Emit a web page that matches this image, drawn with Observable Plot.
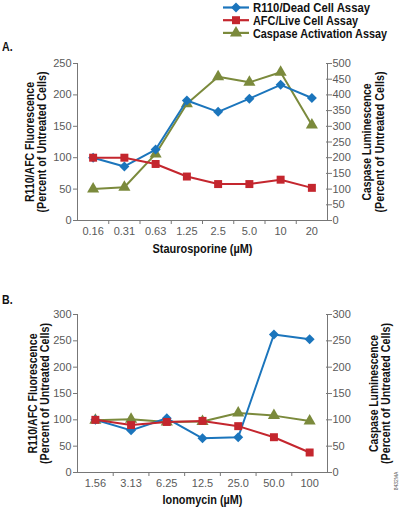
<!DOCTYPE html>
<html>
<head>
<meta charset="utf-8">
<script src="https://cdn.jsdelivr.net/npm/d3@7"></script>
<script src="https://cdn.jsdelivr.net/npm/@observablehq/plot@0.6"></script>
<style>
  html, body { margin: 0; padding: 0; background: #fff; }
  #root { position: relative; width: 400px; height: 511px; overflow: hidden; }
  .abs { position: absolute; }
</style>
</head>
<body>
<div id="root"></div>
<script>
// ---------- data ----------
const seriesNames = ["R110/Dead Cell Assay", "AFC/Live Cell Assay", "Caspase Activation Assay"];
const seriesColors = ["#1b75bc", "#c4262e", "#7b8a3c"];
const seriesSymbols = ["diamond2", "square", "triangle"];

const catsA = ["0.16", "0.31", "0.63", "1.25", "2.5", "5.0", "10", "20"];
const r110A = [100, 86, 113, 191, 173, 194, 216, 195];
const afcA  = [100, 100, 90, 70, 58, 58, 65, 52];
const caspA = [100, 106, 212, 372, 458, 440, 472, 304];
const leftTicksA  = [0, 50, 100, 150, 200, 250];
const rightTicksA = [0, 50, 100, 150, 200, 250, 300, 350, 400, 450, 500];

const catsB = ["1.56", "3.13", "6.25", "12.5", "25.0", "50.0", "100"];
const r110B = [100, 80, 103, 65, 67, 262, 253];
const afcB  = [100, 90, 96, 98, 88, 67, 38];
const caspB = [99, 101, 96, 97, 113, 108, 98];
const leftTicksB  = [0, 50, 100, 150, 200, 250, 300];
const rightTicksB = [0, 50, 100, 150, 200, 250, 300];

const leftLabel  = ["R110/AFC Fluorescence", "(Percent of Untreated Cells)"];
const rightLabel = ["Caspase Luminescence", "(Percent of Untreated Cells)"];
const xTitleA = "Staurosporine (µM)";
const xTitleB = "Ionomycin (µM)";

// ---------- drawing ----------
const root = document.getElementById("root");
const boldFont = '"Liberation Sans", Arial, sans-serif';
const axisColor = "#777";
const tickText = "#5a5a5a";

// target rendered widths of the condensed bold texts (px)
const textWidths = new Map([
  ["R110/AFC Fluorescence", 120],
  ["Caspase Luminescence", 117],
  ["(Percent of Untreated Cells)", 141],
  [xTitleA, 100],
  [xTitleB, 80]
]);

function condense(svg) {
  d3.select(svg).selectAll("text").each(function () {
    const w = textWidths.get(this.textContent);
    if (w) {
      this.setAttribute("textLength", w);
      this.setAttribute("lengthAdjust", "spacingAndGlyphs");
    }
  });
}

function panel({cats, r110, afc, casp, leftTicks, rightTicks, rightFactor, xTitle, height, marginTop, marginBottom, titleDy, ldx, rdx}) {
  const n = cats.length;
  const yMax = leftTicks[leftTicks.length - 1];
  const rows = (vals, f = 1) => vals.map((v, i) => ({i, v: v / f}));
  const rightPos = rightTicks.map(t => t / rightFactor);
  const series = [
    {data: rows(casp, rightFactor), k: 2},
    {data: rows(r110), k: 0},
    {data: rows(afc), k: 1}
  ];
  const titleStyle = {fontSize: 12.5, fontWeight: "bold", fontFamily: boldFont, fill: "#111"};
  const marks = [
    Plot.ruleY([0], {stroke: axisColor, strokeWidth: 1}),
    Plot.ruleX([-0.5], {stroke: axisColor, strokeWidth: 1}),
    Plot.ruleX([n - 0.5], {stroke: axisColor, strokeWidth: 1}),
    Plot.axisX(d3.range(n), {tickSize: 0, tickPadding: 7, tickFormat: i => cats[i], fill: tickText, fontSize: 11, label: null}),
    Plot.axisX(d3.range(1, n).map(i => i - 0.5), {tickSize: 4, stroke: axisColor, tickFormat: () => "", label: null}),
    Plot.axisY(leftTicks, {anchor: "left", tickSize: 4, tickPadding: 2, stroke: axisColor, fill: tickText, fontSize: 11, label: null}),
    Plot.axisY(rightPos, {anchor: "right", tickSize: 6, dx: -2, stroke: axisColor, tickFormat: () => "", label: null}),
    Plot.axisY(rightPos, {anchor: "right", tickSize: 0, tickPadding: 5, fill: tickText, fontSize: 11, tickFormat: d => Math.round(d * rightFactor), label: null}),
    Plot.text([leftLabel[0]], {frameAnchor: "left", rotate: -90, textAnchor: "middle", dx: ldx[0], ...titleStyle}),
    Plot.text([leftLabel[1]], {frameAnchor: "left", rotate: -90, textAnchor: "middle", dx: ldx[1], ...titleStyle}),
    Plot.text([rightLabel[0]], {frameAnchor: "right", rotate: -90, textAnchor: "middle", dx: rdx[0], ...titleStyle}),
    Plot.text([rightLabel[1]], {frameAnchor: "right", rotate: -90, textAnchor: "middle", dx: rdx[1], ...titleStyle}),
    Plot.text([xTitle], {frameAnchor: "bottom", textAnchor: "middle", dy: titleDy, ...titleStyle})
  ];
  for (const s of series) {
    marks.push(Plot.line(s.data, {x: "i", y: "v", stroke: seriesColors[s.k], strokeWidth: 2}));
    marks.push(Plot.dot(s.data, {x: "i", y: "v", symbol: seriesSymbols[s.k], r: 4.5, fill: seriesColors[s.k], stroke: "none"}));
  }
  const svg = Plot.plot({
    width: 400,
    height,
    marginLeft: 77,
    marginRight: 73,
    marginTop,
    marginBottom,
    style: {fontFamily: '"Liberation Sans", Arial, sans-serif', fontSize: "11px", background: "transparent", overflow: "visible"},
    x: {type: "linear", domain: [-0.5, n - 0.5], label: null},
    y: {domain: [0, yMax], label: null},
    marks
  });
  condense(svg);
  return svg;
}

const plotA = panel({cats: catsA, r110: r110A, afc: afcA, casp: caspA, leftTicks: leftTicksA, rightTicks: rightTicksA, rightFactor: 2, xTitle: xTitleA, height: 225, marginTop: 23, marginBottom: 45, titleDy: 32, ldx: [-48, -36], rdx: [39, 52]});
plotA.classList.add("abs");
plotA.style.left = "0px"; plotA.style.top = "40px";
root.appendChild(plotA);

const plotB = panel({cats: catsB, r110: r110B, afc: afcB, casp: caspB, leftTicks: leftTicksB, rightTicks: rightTicksB, rightFactor: 1, xTitle: xTitleB, height: 226, marginTop: 29, marginBottom: 39, titleDy: 31, ldx: [-45, -33], rdx: [46, 58]});
plotB.classList.add("abs");
plotB.style.left = "0px"; plotB.style.top = "285px";
root.appendChild(plotB);

// panel labels
for (const [t, top] of [["A.", 40], ["B.", 293]]) {
  const d = document.createElement("div");
  d.className = "abs";
  d.textContent = t;
  d.style.cssText += `left:2px;top:${top}px;font-size:12.5px;font-weight:bold;font-family:${boldFont};color:#111;transform:scaleX(0.85);transform-origin:left;`;
  root.appendChild(d);
}

// legend
const ns = "http://www.w3.org/2000/svg";
const legendWidths = [117, 105, 134];
const leg = document.createElementNS(ns, "svg");
leg.setAttribute("width", 180); leg.setAttribute("height", 42);
leg.setAttribute("class", "abs");
leg.style.left = "220px"; leg.style.top = "0px";
const symGen = {diamond2: d3.symbolDiamond2, square: d3.symbolSquare, triangle: d3.symbolTriangle};
seriesNames.forEach((name, k) => {
  const cy = 7.5 + k * 12.7;
  const line = document.createElementNS(ns, "line");
  line.setAttribute("x1", 3); line.setAttribute("x2", 29);
  line.setAttribute("y1", cy); line.setAttribute("y2", cy);
  line.setAttribute("stroke", seriesColors[k]); line.setAttribute("stroke-width", 2.2);
  leg.appendChild(line);
  const p = document.createElementNS(ns, "path");
  p.setAttribute("d", d3.symbol(symGen[seriesSymbols[k]], Math.PI * 4.5 * 4.5)());
  p.setAttribute("transform", `translate(16,${cy})`);
  p.setAttribute("fill", seriesColors[k]);
  leg.appendChild(p);
  const tx = document.createElementNS(ns, "text");
  tx.setAttribute("x", 33); tx.setAttribute("y", cy);
  tx.setAttribute("dy", "0.36em");
  tx.setAttribute("font-family", boldFont);
  tx.setAttribute("font-weight", "bold");
  tx.setAttribute("font-size", 13);
  tx.setAttribute("fill", "#111");
  tx.setAttribute("textLength", legendWidths[k]);
  tx.setAttribute("lengthAdjust", "spacingAndGlyphs");
  tx.textContent = name;
  leg.appendChild(tx);
});
root.appendChild(leg);

// figure code
const code = document.createElement("div");
code.className = "abs";
code.textContent = "8432MA";
code.style.cssText = "left:384px;top:478px;font-size:5px;font-family:'Liberation Sans',sans-serif;color:#555;transform:rotate(-90deg);transform-origin:center;width:24px;text-align:center;";
root.appendChild(code);
</script>
</body>
</html>
